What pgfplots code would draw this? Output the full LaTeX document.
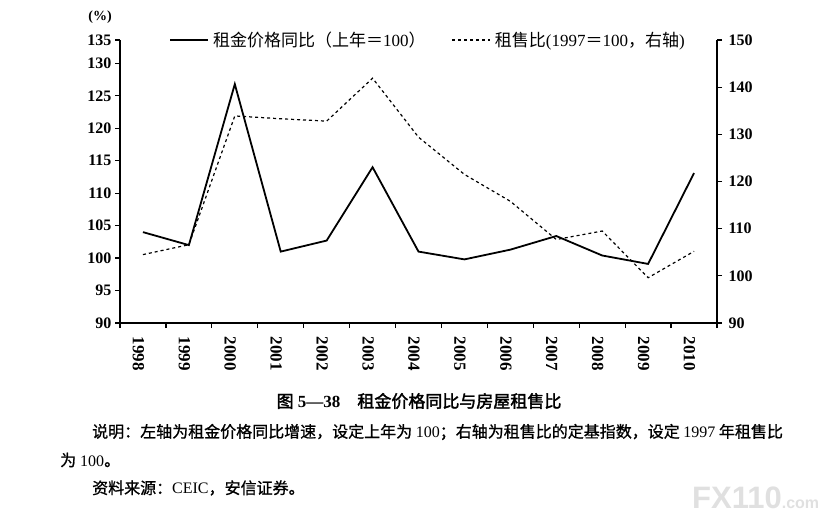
\documentclass[border=0pt]{standalone}
\usepackage{pgfplots}
\pgfplotsset{compat=1.18}
\usepackage{fontspec}
\setmainfont{Liberation Serif}
\newfontfamily\cjk{Noto Sans CJK SC}
\newfontfamily\cjkm[FakeBold=1]{Noto Sans CJK SC}
\newfontfamily\cjkb[FakeBold=2]{Noto Sans CJK SC}
\newfontfamily\wm{Liberation Sans}
\pgfplotsset{
  common/.style={
    at={(120pt,197pt)}, anchor=south west,
    scale only axis, width=597pt, height=283pt,
    xmin=-0.5, xmax=12.5,
    tick align=outside, major tick length=5pt,
    tick style={black, line width=1.2pt},
    axis line style={-, black, line width=1.3pt},
    /pgf/number format/assume math mode=true,
    tick label style={font=\fontsize{16}{16}\selectfont\bfseries},
  }
}
\begin{document}
\begin{tikzpicture}
\path[use as bounding box] (0pt,0pt) rectangle (832pt,520pt);
\begin{axis}[common,
  ymin=90, ymax=133.6,
  axis x line*=bottom, axis y line*=left,
  ytick={90,95,...,130},
  extra y ticks={133.6}, extra y tick labels={135},
  xtick={-0.5,0.5,...,12.5},
  x tick label as interval,
  xticklabels={1998,1999,2000,2001,2002,2003,2004,2005,2006,2007,2008,2009,2010},
  x tick label style={xshift=-4.5pt, rotate=-90, anchor=west, font=\fontsize{17}{17}\selectfont\bfseries},
  xticklabel shift=5pt,
]
\addplot[black, line width=1.8pt] coordinates {
(0,104.0) (1,102.0) (2,126.8) (3,101.0) (4,102.7) (5,114.0) (6,101.0)
(7,99.8) (8,101.3) (9,103.4) (10,100.4) (11,99.1) (12,113.1)};
\end{axis}
\begin{axis}[common,
  ymin=90, ymax=150,
  axis x line=none, axis y line*=right,
  ytick={90,100,...,150},
  yticklabel shift=3pt,
  legend columns=2,
  legend style={draw=none, fill=none, at={(0.5176,1)}, anchor=center,
    font=\fontsize{17}{17}\selectfont,
    nodes={inner xsep=4pt},
    /tikz/every even column/.append style={column sep=22pt}},
  legend image code/.code={\draw[#1] (0pt,0pt) -- (38pt,0pt);},
]
\addlegendimage{black, line width=1.8pt}
\addlegendentry{{\cjk 租金价格同比（上年＝}100{\cjk ）}}
\addplot[black, line width=1.2pt, dash pattern=on 3pt off 3pt] coordinates {
(0,104.5) (1,106.6) (2,133.9) (3,133.3) (4,132.8) (5,141.9) (6,129.4)
(7,121.5) (8,115.8) (9,107.7) (10,109.5) (11,99.6) (12,105.2)};
\addlegendentry{{\cjk 租售比}(1997{\cjk ＝}100{\cjk ，右轴})}
\end{axis}
\node[font=\fontsize{14}{14}\selectfont\bfseries] at (100pt,503pt) {(\%)};
\node[font=\fontsize{17}{17}\selectfont] at (419pt,119pt)
  {{\cjkb 图} \textbf{5—38}\hspace{1em}{\cjkb 租金价格同比与房屋租售比}};
\node[anchor=west, inner sep=0pt, font=\fontsize{16}{16}\selectfont] at (92pt,88pt)
  {\cjkm 说明：左轴为租金价格同比增速，设定上年为 {\rmfamily 100}；右轴为租售比的定基指数，设定 {\rmfamily 1997} 年租售比};
\node[anchor=west, inner sep=0pt, font=\fontsize{16}{16}\selectfont] at (60pt,60pt)
  {{\cjkm 为} 100{\cjkm 。}};
\node[anchor=west, inner sep=0pt, font=\fontsize{16}{16}\selectfont] at (92pt,32pt)
  {{\cjkm 资料来源：}CEIC{\cjkm ，安信证券。}};
\node[anchor=west, inner sep=0pt, text=black!12, font=\wm\bfseries\fontsize{31}{31}\selectfont] at (692pt,22pt)
  {FX110{\fontsize{16}{16}\selectfont .com}};
\end{tikzpicture}
\end{document}
